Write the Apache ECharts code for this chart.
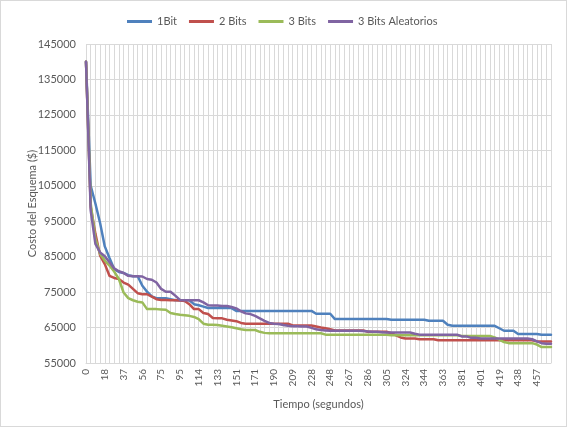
<!DOCTYPE html>
<html lang="es">
<head>
  <meta charset="UTF-8">
  <title>Costo del Esquema vs Tiempo</title>
  <script src="https://cdn.jsdelivr.net/npm/echarts@6/dist/echarts.min.js"></script>
  <style>
    html, body {
      margin: 0;
      padding: 0;
      background: #fff;
    }
    #chart {
      width: 567px;
      height: 427px;
      box-sizing: border-box;
      border: 1px solid #d9d9d9;
    }
  </style>
</head>
<body>
  <div id="chart"></div>

  <script>
    // Tiempo (segundos) - one category per sample
    const tiempos = [
      0, 5, 9, 14, 18, 23, 28, 33, 37, 42, 47, 51, 56, 61, 66, 70, 75, 80, 85, 90,
      95, 100, 104, 109, 114, 119, 123, 128, 133, 137, 142, 147, 151, 156, 161, 166, 171, 176, 180, 185,
      190, 195, 199, 204, 209, 214, 218, 223, 228, 233, 238, 243, 248, 253, 257, 262, 267, 272, 276, 281,
      286, 291, 295, 300, 305, 310, 314, 319, 324, 329, 334, 339, 344, 349, 353, 358, 363, 367, 372, 376,
      381, 386, 391, 396, 401, 405, 410, 414, 419, 424, 429, 433, 438, 443, 448, 452, 457, 462, 467, 471
    ];

    const serie1Bit = [
      140000, 105000, 100000, 94500, 87900, 84600, 81500, 80700, 80400, 79800,
      79500, 79500, 76800, 75100, 73800, 73300, 73300, 73300, 73000, 72700,
      72700, 72700, 72700, 71600, 71300, 70900, 70500, 70500, 70500, 70500,
      70500, 70500, 69700, 69700, 69700, 69700, 69700, 69700, 69700, 69700,
      69700, 69700, 69700, 69700, 69700, 69700, 69700, 69700, 69700, 68900,
      68900, 68900, 68900, 67400, 67400, 67400, 67400, 67400, 67400, 67400,
      67400, 67400, 67400, 67400, 67400, 67200, 67200, 67200, 67200, 67200,
      67200, 67200, 67200, 66900, 66900, 66900, 66900, 65800, 65500, 65500,
      65500, 65500, 65500, 65500, 65500, 65500, 65500, 65500, 64800, 64100,
      64100, 64100, 63200, 63200, 63200, 63200, 63200, 62950, 62950, 62950
    ];

    const serie2Bits = [
      140000, 99000, 91500, 85300, 82900, 79600, 79000, 78700, 77700, 77100,
      75900, 74700, 74400, 74400, 73700, 73000, 72800, 72800, 72700, 72700,
      72600, 72500, 71600, 70200, 70200, 69100, 68800, 67700, 67600, 67600,
      67200, 67000, 66800, 66300, 66100, 66100, 66100, 66100, 66100, 66100,
      66100, 66100, 66100, 66100, 65600, 65600, 65600, 65600, 65600, 65300,
      65000, 64800, 64500, 64200, 64200, 64200, 64200, 64200, 64200, 64200,
      63800, 63800, 63800, 63800, 63800, 63400, 62800, 62200, 61900, 61900,
      61900, 61700, 61700, 61700, 61700, 61400, 61400, 61400, 61400, 61400,
      61400, 61400, 61400, 61400, 61400, 61400, 61400, 61400, 61400, 61400,
      61400, 61400, 61400, 61400, 61400, 61400, 61100, 61100, 61100, 61100
    ];

    const serie3Bits = [
      140000, 100000, 90000, 85800, 83900, 82500, 80800, 78700, 74900, 73300,
      72700, 72300, 72100, 70200, 70200, 70200, 70100, 70000, 69100, 68800,
      68600, 68500, 68300, 68000, 67400, 66100, 65800, 65800, 65700, 65500,
      65300, 65100, 64800, 64500, 64300, 64300, 64300, 63800, 63500, 63400,
      63400, 63400, 63400, 63400, 63400, 63400, 63400, 63400, 63400, 63400,
      63400, 63000, 63000, 63000, 63000, 63000, 63000, 63000, 63000, 63000,
      63000, 63000, 63000, 63000, 63000, 62800, 62800, 62800, 62800, 62800,
      62800, 62800, 62800, 62800, 62800, 62800, 62800, 62800, 62800, 62800,
      62600, 62600, 62600, 62600, 62600, 62600, 62600, 62200, 61600, 60900,
      60600, 60600, 60600, 60600, 60600, 60600, 60200, 59500, 59500, 59500
    ];

    const serie3BitsAleatorios = [
      140000, 98000, 88600, 86200, 85100, 83400, 81700, 80900, 80400, 79600,
      79500, 79500, 79400, 78700, 78500, 77700, 75900, 75100, 75100, 74000,
      72800, 72700, 72700, 72700, 72700, 72100, 71300, 71200, 71200, 71100,
      71100, 70800, 70400, 69600, 69000, 68800, 68300, 67600, 66900, 66300,
      66100, 66000, 65700, 65500, 65400, 65400, 65300, 65300, 64900, 64500,
      64300, 64200, 64100, 64100, 64100, 64100, 64100, 64100, 64100, 64000,
      63900, 63800, 63800, 63700, 63600, 63600, 63600, 63600, 63600, 63600,
      63250, 63000, 63000, 63000, 63000, 63000, 63000, 63000, 63000, 63000,
      62500, 62500, 62100, 62100, 61900, 61900, 61900, 61900, 61900, 61900,
      61900, 61900, 61900, 61900, 61900, 61700, 61100, 60600, 60400, 60400
    ];

    const seriesNames = ['1Bit', '2 Bits', '3 Bits', '3 Bits Aleatorios'];
    const seriesColors = ['#4f81bd', '#c0504d', '#9bbb59', '#8064a2'];
    const seriesData = [serie1Bit, serie2Bits, serie3Bits, serie3BitsAleatorios];

    const textColor = '#595959';
    const gridColor = '#d9d9d9';
    const font = 'Lato, "Open Sans", sans-serif';

    const chart = echarts.init(document.getElementById('chart'));

    chart.setOption({
      animation: false,
      textStyle: { fontFamily: font },
      legend: {
        top: 10,
        left: 121,
        icon: 'rect',
        itemWidth: 25,
        itemHeight: 3,
        itemGap: 12,
        textStyle: { color: textColor, fontSize: 11, fontFamily: font },
        data: seriesNames
      },
      grid: {
        left: 85,
        right: 15,
        top: 43,
        bottom: 63
      },
      xAxis: {
        type: 'category',
        data: tiempos,
        boundaryGap: false,
        name: 'Tiempo (segundos)',
        nameLocation: 'middle',
        nameGap: 36,
        nameMoveOverlap: false,
        nameTextStyle: { color: textColor, fontSize: 11 },
        axisLine: { lineStyle: { color: gridColor } },
        axisTick: { show: false },
        axisLabel: {
          interval: 3,
          rotate: 90,
          color: textColor,
          fontSize: 10,
          margin: 6
        },
        splitLine: {
          show: true,
          interval: 0,
          lineStyle: { color: gridColor, width: 1 }
        }
      },
      yAxis: {
        type: 'value',
        min: 55000,
        max: 145000,
        interval: 10000,
        name: 'Costo del Esquema ($)',
        nameLocation: 'middle',
        nameGap: 54,
        nameMoveOverlap: false,
        nameRotate: 90,
        nameTextStyle: { color: textColor, fontSize: 11, verticalAlign: 'middle' },
        axisLine: { show: false },
        axisTick: { show: false },
        axisLabel: {
          color: textColor,
          fontSize: 11,
          margin: 10,
          formatter: (v) => String(v)
        },
        splitLine: { lineStyle: { color: gridColor, width: 1 } }
      },
      series: seriesNames.map((name, i) => ({
        name: name,
        type: 'line',
        data: seriesData[i],
        symbol: 'none',
        lineStyle: { color: seriesColors[i], width: 2.5, cap: 'round', join: 'round' },
        itemStyle: { color: seriesColors[i] }
      }))
    });
  </script>
</body>
</html>
